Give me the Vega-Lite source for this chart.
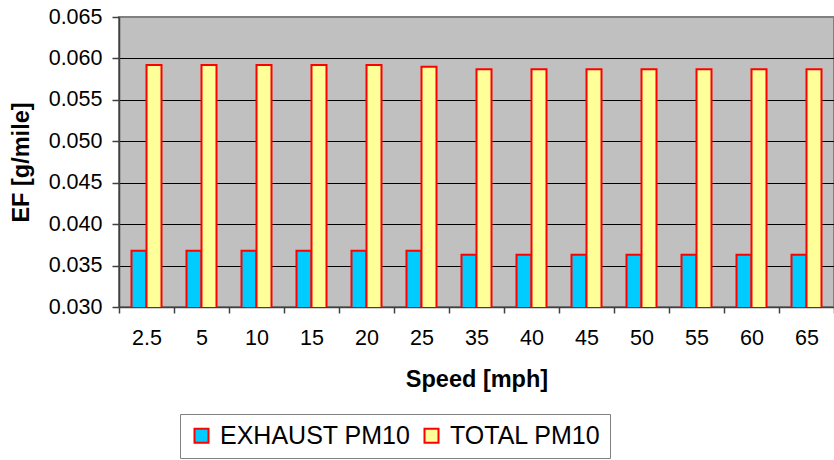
{
  "$schema": "https://vega.github.io/schema/vega-lite/v6.json",
  "autosize": "none",
  "width": 715,
  "height": 290,
  "padding": {"left": 119, "top": 17, "right": 0, "bottom": 153},
  "background": "#FFFFFF",
  "config": {
    "font": "Liberation Sans",
    "view": {"fill": "#C0C0C0", "stroke": "#808080", "strokeWidth": 2},
    "axis": {
      "labelFont": "Liberation Sans",
      "titleFont": "Liberation Sans",
      "labelColor": "#000000",
      "titleColor": "#000000",
      "domainColor": "#404040",
      "tickColor": "#404040",
      "domainWidth": 1.5,
      "tickWidth": 1.5
    }
  },
  "data": {
    "values": [
      {"speed": "2.5", "series": "EXHAUST PM10", "ef": 0.0368},
      {"speed": "5", "series": "EXHAUST PM10", "ef": 0.0368},
      {"speed": "10", "series": "EXHAUST PM10", "ef": 0.0368},
      {"speed": "15", "series": "EXHAUST PM10", "ef": 0.0368},
      {"speed": "20", "series": "EXHAUST PM10", "ef": 0.0368},
      {"speed": "25", "series": "EXHAUST PM10", "ef": 0.0368},
      {"speed": "35", "series": "EXHAUST PM10", "ef": 0.0363},
      {"speed": "40", "series": "EXHAUST PM10", "ef": 0.0363},
      {"speed": "45", "series": "EXHAUST PM10", "ef": 0.0363},
      {"speed": "50", "series": "EXHAUST PM10", "ef": 0.0363},
      {"speed": "55", "series": "EXHAUST PM10", "ef": 0.0363},
      {"speed": "60", "series": "EXHAUST PM10", "ef": 0.0363},
      {"speed": "65", "series": "EXHAUST PM10", "ef": 0.0363},
      {"speed": "2.5", "series": "TOTAL PM10", "ef": 0.0592},
      {"speed": "5", "series": "TOTAL PM10", "ef": 0.0592},
      {"speed": "10", "series": "TOTAL PM10", "ef": 0.0592},
      {"speed": "15", "series": "TOTAL PM10", "ef": 0.0592},
      {"speed": "20", "series": "TOTAL PM10", "ef": 0.0592},
      {"speed": "25", "series": "TOTAL PM10", "ef": 0.0590},
      {"speed": "35", "series": "TOTAL PM10", "ef": 0.0587},
      {"speed": "40", "series": "TOTAL PM10", "ef": 0.0587},
      {"speed": "45", "series": "TOTAL PM10", "ef": 0.0587},
      {"speed": "50", "series": "TOTAL PM10", "ef": 0.0587},
      {"speed": "55", "series": "TOTAL PM10", "ef": 0.0587},
      {"speed": "60", "series": "TOTAL PM10", "ef": 0.0587},
      {"speed": "65", "series": "TOTAL PM10", "ef": 0.0587}
    ]
  },
  "mark": {"type": "bar", "stroke": "#FF0000", "strokeWidth": 2, "clip": true},
  "encoding": {
    "x": {
      "field": "speed",
      "type": "nominal",
      "sort": ["2.5", "5", "10", "15", "20", "25", "35", "40", "45", "50", "55", "60", "65"],
      "scale": {"paddingInner": 0, "paddingOuter": 0},
      "axis": {
        "title": "Speed [mph]",
        "titleFontSize": 23.5,
        "titleFontWeight": "bold",
        "titlePadding": 19,
        "labelFontSize": 21.5,
        "labelAngle": 0,
        "labelPadding": 14,
        "tickSize": 6,
        "tickBand": "extent",
        "grid": false
      }
    },
    "xOffset": {
      "field": "series",
      "type": "nominal",
      "scale": {"paddingInner": 0, "paddingOuter": 0.8333}
    },
    "y": {
      "field": "ef",
      "type": "quantitative",
      "scale": {"domain": [0.03, 0.065], "zero": false, "nice": false},
      "axis": {
        "title": "EF [g/mile]",
        "titleFontSize": 23.5,
        "titleFontWeight": "bold",
        "titlePadding": 15,
        "labelFontSize": 21.5,
        "labelPadding": 10,
        "tickSize": 7,
        "values": [0.03, 0.035, 0.04, 0.045, 0.05, 0.055, 0.06, 0.065],
        "format": ".3f",
        "grid": true,
        "gridColor": {"condition": {"test": "datum.value >= 0.065", "value": "#808080"}, "value": "#000000"},
        "gridWidth": 1.2
      }
    },
    "fill": {
      "field": "series",
      "type": "nominal",
      "scale": {"domain": ["EXHAUST PM10", "TOTAL PM10"], "range": ["#00CCFF", "#FFFF99"]},
      "legend": {
        "title": null,
        "orient": "none",
        "direction": "horizontal",
        "legendX": 61,
        "legendY": 397,
        "padding": 9,
        "strokeColor": "#808080",
        "symbolType": "square",
        "symbolSize": 196,
        "symbolStrokeColor": "#FF0000",
        "symbolStrokeWidth": 2,
        "symbolOpacity": 1,
        "labelFont": "Liberation Sans",
        "labelFontSize": 25,
        "labelLimit": 400,
        "labelColor": "#000000",
        "labelOffset": 6,
        "columnPadding": 8,
        "offset": 0
      }
    }
  }
}
